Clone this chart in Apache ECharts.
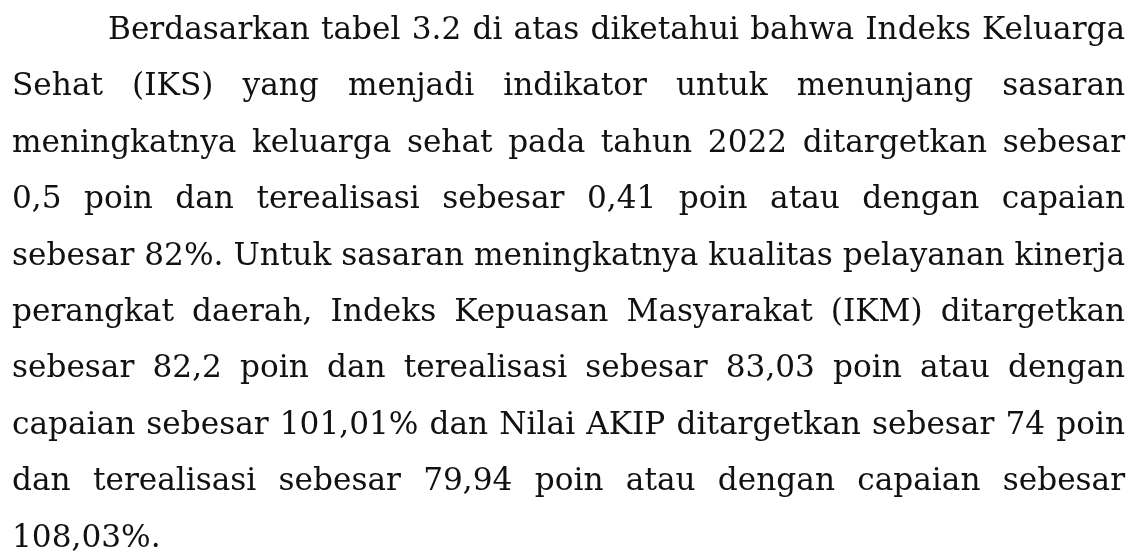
<!DOCTYPE html>
<html>
<head>
<meta charset="utf-8">
<script src="https://cdn.jsdelivr.net/npm/echarts@6/dist/echarts.min.js"></script>
<style>
  html, body { margin: 0; padding: 0; background: #fff; }
  #chart { width: 1140px; height: 552px; }
</style>
</head>
<body>
<div id="chart"></div>
<script>
// paragraph text, one entry per printed line
const lines = [
  'Berdasarkan tabel 3.2 di atas diketahui bahwa Indeks Keluarga',
  'Sehat (IKS) yang menjadi indikator untuk menunjang sasaran',
  'meningkatnya keluarga sehat pada tahun 2022 ditargetkan sebesar',
  '0,5 poin dan terealisasi sebesar 0,41 poin atau dengan capaian',
  'sebesar 82%. Untuk sasaran meningkatnya kualitas pelayanan kinerja',
  'perangkat daerah, Indeks Kepuasan Masyarakat (IKM) ditargetkan',
  'sebesar 82,2 poin dan terealisasi sebesar 83,03 poin atau dengan',
  'capaian sebesar 101,01% dan Nilai AKIP ditargetkan sebesar 74 poin',
  'dan terealisasi sebesar 79,94 poin atau dengan capaian sebesar',
  '108,03%.'
]

const fontFamily = "'DejaVu Serif', 'Liberation Serif', serif"
const left = 12
const right = 1125
const indent = 96
const firstBaseline = 39
const lineStep = 56.4

const ctx = document.createElement('canvas').getContext('2d')
const measure = (txt, size) => {
  ctx.font = size + 'px ' + fontFamily
  return ctx.measureText(txt).width
}

// pick a size so the tightest (naturally spaced) line fills the measure
const fontSize = 100 * (right - left) / measure(lines[4], 100)
const font = fontSize.toFixed(2) + 'px ' + fontFamily
// text boxes are anchored at their bottom, push down by the descent
const descent = fontSize * 0.24

const elements = []
lines.forEach((line, i) => {
  const words = line.split(' ')
  const x0 = i === 0 ? left + indent : left
  const widths = words.map(w => measure(w, fontSize))
  const total = widths.reduce((a, b) => a + b, 0)
  const justify = i < lines.length - 1 && words.length > 1
  const gap = justify ? (right - x0 - total) / (words.length - 1) : measure(' ', fontSize)
  const baseline = firstBaseline + i * lineStep
  let x = x0
  words.forEach((w, j) => {
    elements.push({
      type: 'text',
      x: x,
      y: baseline + descent,
      style: {
        text: w,
        font: font,
        fill: '#111',
        textAlign: 'left',
        textVerticalAlign: 'bottom'
      }
    })
    x += widths[j] + gap
  })
})

const chart = echarts.init(document.getElementById('chart'))
chart.setOption({
  backgroundColor: '#fff',
  graphic: { elements }
})
</script>
</body>
</html>
